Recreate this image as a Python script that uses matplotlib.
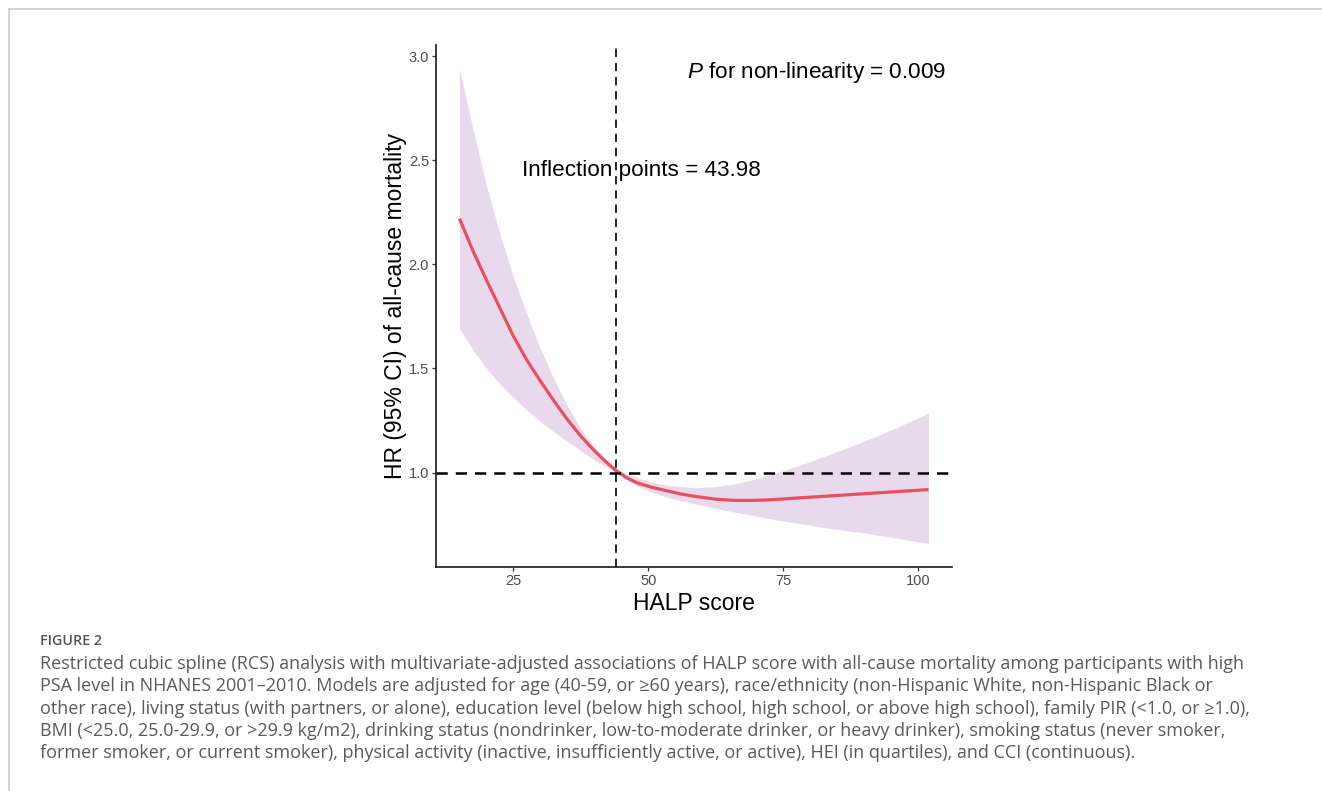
import matplotlib
matplotlib.use("Agg")
import matplotlib.pyplot as plt
from matplotlib.lines import Line2D

# RCS estimates
halp = [15, 17.5, 20, 22.5, 25, 27.5, 30, 32.5, 35, 37.5, 40, 42, 44, 46, 48,
        50.5, 53, 56, 59, 62.5, 66, 69, 72, 75, 78, 81, 84, 87, 90, 93, 96, 99, 102]
hr = [2.22, 2.065, 1.925, 1.79, 1.655, 1.54, 1.44, 1.345, 1.255, 1.175, 1.105, 1.055,
      1.01, 0.975, 0.95, 0.93, 0.915, 0.897, 0.884, 0.872, 0.866, 0.866, 0.868,
      0.873, 0.878, 0.883, 0.888, 0.893, 0.898, 0.903, 0.908, 0.913, 0.918]
hr_upper = [2.94, 2.65, 2.38, 2.145, 1.94, 1.76, 1.595, 1.45, 1.32, 1.21, 1.125, 1.065,
            1.02, 0.995, 0.975, 0.955, 0.94, 0.932, 0.928, 0.932, 0.945, 0.963,
            0.986, 1.008, 1.034, 1.062, 1.09, 1.12, 1.15, 1.182, 1.215, 1.25, 1.285]
hr_lower = [1.69, 1.59, 1.50, 1.425, 1.36, 1.30, 1.245, 1.195, 1.15, 1.105, 1.06,
            1.03, 1.0, 0.965, 0.935, 0.908, 0.885, 0.865, 0.848, 0.828, 0.81,
            0.795, 0.78, 0.767, 0.755, 0.742, 0.73, 0.72, 0.71, 0.697, 0.685,
            0.672, 0.66]

inflection = 43.98
p_nonlin = 0.009
x_ticks = [25, 50, 75, 100]
y_ticks = [1.0, 1.5, 2.0, 2.5, 3.0]

caption_title = "FIGURE 2"
caption_lines = [
    "Restricted cubic spline (RCS) analysis with multivariate-adjusted associations of HALP score with all-cause mortality among participants with high",
    "PSA level in NHANES 2001\u20132010. Models are adjusted for age (40-59, or \u226560 years), race/ethnicity (non-Hispanic White, non-Hispanic Black or",
    "other race), living status (with partners, or alone), education level (below high school, high school, or above high school), family PIR (<1.0, or \u22651.0),",
    "BMI (<25.0, 25.0-29.9, or >29.9 kg/m2), drinking status (nondrinker, low-to-moderate drinker, or heavy drinker), smoking status (never smoker,",
    "former smoker, or current smoker), physical activity (inactive, insufficiently active, or active), HEI (in quartiles), and CCI (continuous).",
]

plt.rcParams['font.family'] = ['Liberation Sans', 'DejaVu Sans']
plt.rcParams['mathtext.fontset'] = 'custom'
plt.rcParams['mathtext.it'] = 'Liberation Sans:italic'
plt.rcParams['mathtext.rm'] = 'Liberation Sans'

fig = plt.figure(figsize=(13.22, 7.91), dpi=100)
ax = fig.add_axes([436 / 1322, 1 - 567 / 791, (952 - 436) / 1322, (567 - 45) / 791])

ax.fill_between(halp, hr_lower, hr_upper, color='#E8DAEC', linewidth=0)
ax.plot(halp, hr, color='#E8505F', linewidth=2.3, solid_capstyle='butt')

ax.axhline(1.0, color='black', linewidth=1.8, linestyle=(0, (4.5, 3.2)))
ax.axvline(inflection, color='black', linewidth=1.2, linestyle=(0, (5, 3.5)))

xr = max(halp) - min(halp)
ax.set_xlim(min(halp) - 0.05 * xr, max(halp) + 0.05 * xr)
yr = max(hr_upper) - min(hr_lower)
ax.set_ylim(min(hr_lower) - 0.05 * yr, max(hr_upper) + 0.05 * yr)

ax.set_xticks(x_ticks)
ax.set_yticks(y_ticks)
ax.set_xticklabels([str(t) for t in x_ticks])
ax.set_yticklabels(['%.1f' % t for t in y_ticks])
ax.tick_params(colors='#333333', labelcolor='#4D4D4D', labelsize=10.5,
               length=3, width=0.9, pad=2)
for side in ['top', 'right']:
    ax.spines[side].set_visible(False)
for side in ['left', 'bottom']:
    ax.spines[side].set_linewidth(1.2)
    ax.spines[side].set_color('#1a1a1a')

ax.set_xlabel('HALP score', fontsize=16.5, labelpad=3)
ax.set_ylabel('HR (95% CI) of all-cause mortality', fontsize=16.5, labelpad=1)

ax.text(81.3, 2.923, r'$\mathit{P}$ for non-linearity = %.3f' % p_nonlin,
        fontsize=16.2, ha='center', va='center')
ax.text(48.7, 2.452, 'Inflection points = %.2f' % inflection,
        fontsize=16.2, ha='center', va='center')

# page frame
fig.add_artist(Line2D([9 / 1322, 1], [1 - 9 / 791, 1 - 9 / 791],
                      transform=fig.transFigure, color='#CCCCCC', linewidth=1.2))
fig.add_artist(Line2D([9 / 1322, 9 / 1322], [0, 1 - 9 / 791],
                      transform=fig.transFigure, color='#CCCCCC', linewidth=1.2))

fig.text(40 / 1322, 1 - 641 / 791, caption_title, fontsize=10.3,
         family=['Open Sans', 'DejaVu Sans'], color='#555555',
         va='center', ha='left', fontweight='semibold')
for i, line in enumerate(caption_lines):
    fig.text(40 / 1322, 1 - (664 + 22.3 * i) / 791, line, fontsize=13,
             family=['Open Sans', 'DejaVu Sans'], color='#5a5a5a',
             va='center', ha='left')

fig.savefig('out.png', dpi=100)
